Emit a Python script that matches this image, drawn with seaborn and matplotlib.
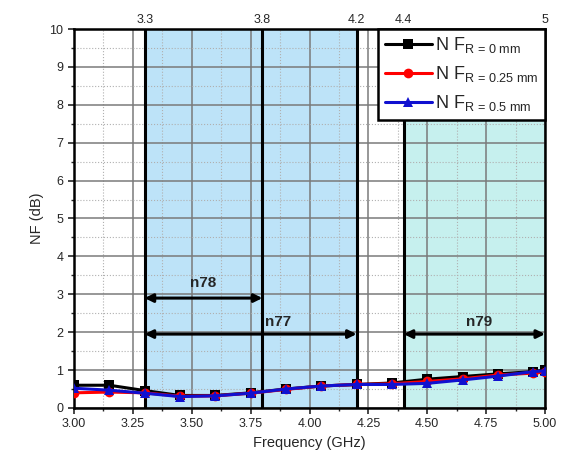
import numpy as np
import pandas as pd
import matplotlib
matplotlib.use("Agg")
import matplotlib.pyplot as plt
import seaborn as sns
from matplotlib.ticker import MultipleLocator

sns.set_style("white")
plt.rcParams['font.family'] = ['Liberation Sans', 'DejaVu Sans']
plt.rcParams['mathtext.fontset'] = 'custom'
plt.rcParams['mathtext.rm'] = 'Liberation Sans'
plt.rcParams['mathtext.it'] = 'Liberation Sans'

freq = [3.0, 3.15, 3.3, 3.45, 3.6, 3.75, 3.9, 4.05, 4.2, 4.35, 4.5, 4.65, 4.8, 4.95, 5.0]
nf_r0 = [0.60, 0.60, 0.46, 0.33, 0.33, 0.40, 0.50, 0.58, 0.62, 0.66, 0.76, 0.83, 0.90, 0.96, 1.00]
nf_r025 = [0.40, 0.42, 0.40, 0.31, 0.32, 0.39, 0.49, 0.58, 0.62, 0.64, 0.70, 0.77, 0.87, 0.92, 0.95]
nf_r05 = [0.52, 0.47, 0.39, 0.30, 0.32, 0.39, 0.50, 0.58, 0.62, 0.62, 0.65, 0.74, 0.84, 0.96, 0.98]
series = ["N F$_{\\mathrm{R\\,=\\,0\\ mm}}$", "N F$_{\\mathrm{R\\,=\\,0.25\\ mm}}$", "N F$_{\\mathrm{R\\,=\\,0.5\\ mm}}$"]

band_edges = [3.3, 3.8, 4.2, 4.4, 5.0]
band_labels = ["3.3", "3.8", "4.2", "4.4", "5"]

df = pd.DataFrame({
    "Frequency": freq * 3,
    "NF": nf_r0 + nf_r025 + nf_r05,
    "Series": [series[0]] * len(freq) + [series[1]] * len(freq) + [series[2]] * len(freq),
})

fig = plt.figure(figsize=(5.66, 4.71), dpi=100)
ax = fig.add_axes([0.1307, 0.1338, 0.963 - 0.1307, 0.9384 - 0.1338])

ax.axvspan(3.3, 4.2, color="#bde3f8", zorder=0)
ax.axvspan(4.4, 5.0, color="#c6f0ee", zorder=0)

ax.set_xlim(3.0, 5.0)
ax.set_ylim(0, 10)
ax.xaxis.set_major_locator(MultipleLocator(0.25))
ax.xaxis.set_minor_locator(MultipleLocator(0.125))
ax.yaxis.set_major_locator(MultipleLocator(1))
ax.yaxis.set_minor_locator(MultipleLocator(0.5))
ax.grid(which="major", color="#7a7a7a", lw=1.1, ls="-", zorder=1)
ax.grid(which="minor", color="#b0b0b0", lw=0.8, ls=":", zorder=1)
ax.set_axisbelow(True)

for xv in band_edges[:-1]:
    ax.axvline(xv, color="black", lw=2.2, zorder=2)

sns.lineplot(data=df, x="Frequency", y="NF", hue="Series", style="Series",
             palette=["black", "red", "#1010d0"], markers=["s", "o", "^"],
             dashes=False, lw=2.2, markersize=7, markeredgewidth=0,
             ax=ax, zorder=4)

arrow_kw = dict(arrowstyle="<|-|>", color="black", lw=2.2, mutation_scale=12, shrinkA=0, shrinkB=0)
ax.annotate("", xy=(3.3, 2.9), xytext=(3.8, 2.9), arrowprops=arrow_kw, zorder=5)
ax.annotate("", xy=(3.3, 1.95), xytext=(4.2, 1.95), arrowprops=arrow_kw, zorder=5)
ax.annotate("", xy=(4.4, 1.95), xytext=(5.0, 1.95), arrowprops=arrow_kw, zorder=5, annotation_clip=False)
ax.text(3.55, 3.3, "n78", ha="center", va="center", fontsize=11, fontweight="bold")
ax.text(3.865, 2.28, "n77", ha="center", va="center", fontsize=11, fontweight="bold")
ax.text(4.72, 2.28, "n79", ha="center", va="center", fontsize=11, fontweight="bold")

ax.set_xlabel("Frequency (GHz)", fontsize=10.5)
ax.set_ylabel("NF (dB)", fontsize=10.5)
ax.set_xticks(np.arange(3.0, 5.01, 0.25))
ax.set_xticklabels([f"{v:.2f}" for v in np.arange(3.0, 5.01, 0.25)])
ax.tick_params(axis="both", which="major", direction="out", length=4, width=1.2, labelsize=9, bottom=True, left=True)
ax.tick_params(axis="both", which="minor", direction="out", length=2, width=1, bottom=True, left=True)
for s in ax.spines.values():
    s.set_linewidth(1.8)
    s.set_color("black")

top = ax.secondary_xaxis("top")
top.set_xticks(band_edges)
top.set_xticklabels(band_labels)
top.tick_params(length=0, labelsize=9, pad=2)

leg = ax.legend(loc="upper right", fontsize=13, frameon=True, fancybox=False,
                handlelength=2.6, handletextpad=0.2, borderaxespad=0.0,
                labelspacing=0.5, borderpad=0.35, framealpha=1)
leg.get_frame().set_edgecolor("black")
leg.get_frame().set_linewidth(1.8)
leg.set_zorder(10)

fig.savefig("out.png", dpi=100)
